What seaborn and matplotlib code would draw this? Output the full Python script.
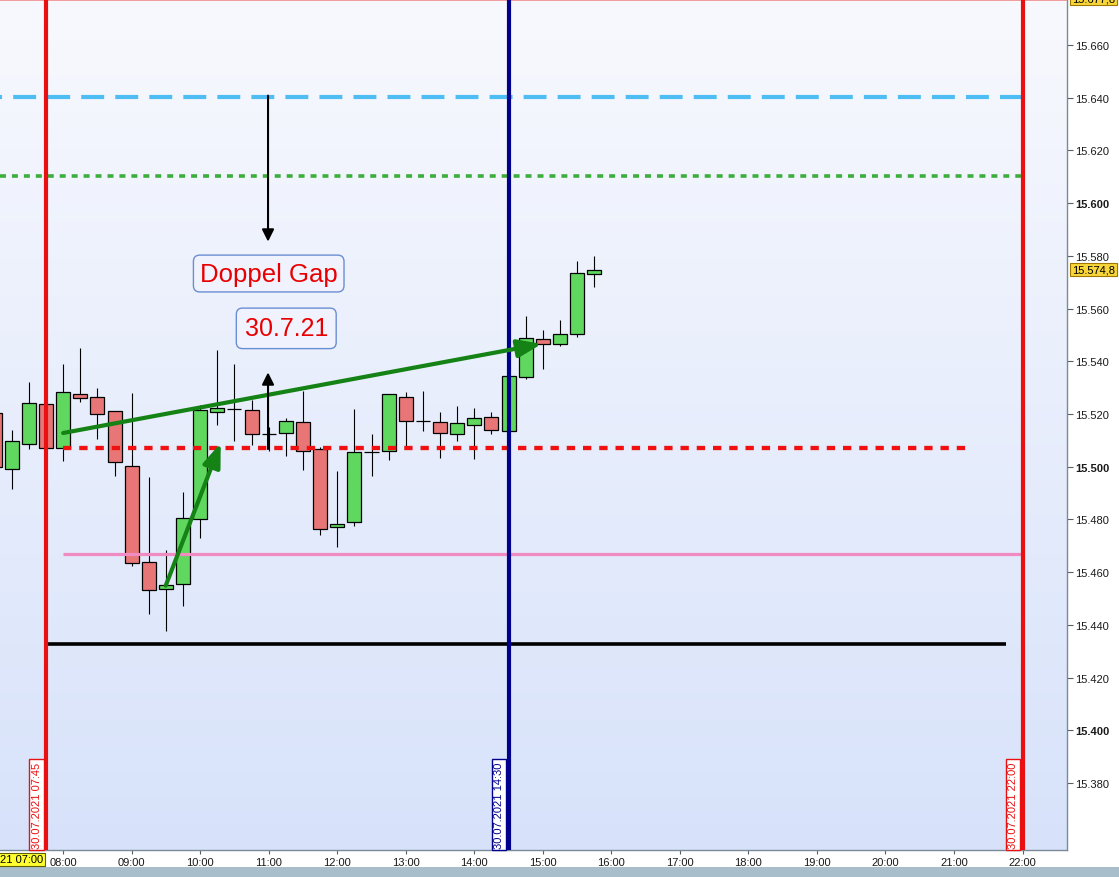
import matplotlib
matplotlib.use("Agg")
import matplotlib.pyplot as plt
from matplotlib.colors import LinearSegmentedColormap
from matplotlib.patches import Rectangle
import seaborn as sns
import numpy as np
import pandas as pd

# 15-Minuten-Kerzen 30.07.2021 (Punkte)
times = ["07:00", "07:15", "07:30", "07:45", "08:00", "08:15", "08:30", "08:45",
         "09:00", "09:15", "09:30", "09:45", "10:00", "10:15", "10:30", "10:45",
         "11:00", "11:15", "11:30", "11:45", "12:00", "12:15", "12:30", "12:45",
         "13:00", "13:15", "13:30", "13:45", "14:00", "14:15", "14:30", "14:45",
         "15:00", "15:15", "15:30", "15:45"]
opens = [15520.2, 15499.3, 15508.7, 15523.9, 15507.2, 15527.7, 15526.5, 15521.0,
         15500.4, 15464.0, 15453.8, 15455.7, 15480.3, 15520.9, 15522.0, 15521.7,
         15512.3, 15512.9, 15517.1, 15506.6, 15477.2, 15479.2, 15505.7, 15506.1,
         15526.5, 15517.5, 15517.1, 15512.5, 15515.9, 15519.0, 15513.7, 15534.1,
         15548.5, 15546.6, 15550.4, 15573.1]
highs = [15523.0, 15513.8, 15532.0, 15526.0, 15538.8, 15545.2, 15529.7, 15521.0,
         15527.8, 15496.0, 15468.3, 15490.3, 15523.4, 15544.1, 15538.8, 15525.3,
         15515.0, 15518.6, 15528.8, 15507.5, 15498.5, 15522.0, 15512.6, 15527.5,
         15528.4, 15528.8, 15520.6, 15523.1, 15522.4, 15520.9, 15534.5, 15557.0,
         15551.7, 15555.5, 15578.1, 15580.1]
lows = [15498.5, 15491.6, 15506.7, 15505.0, 15502.2, 15524.7, 15510.5, 15496.6,
        15462.5, 15444.2, 15437.5, 15447.0, 15472.9, 15515.8, 15509.7, 15508.2,
        15505.8, 15504.2, 15498.9, 15474.1, 15469.7, 15477.7, 15496.5, 15502.5,
        15508.0, 15513.5, 15503.4, 15509.9, 15502.9, 15512.4, 15513.7, 15533.2,
        15537.0, 15545.9, 15549.3, 15568.2]
closes = [15499.8, 15509.9, 15524.3, 15507.2, 15528.2, 15526.0, 15520.1, 15501.9,
          15463.3, 15453.4, 15455.3, 15480.7, 15521.7, 15522.4, 15522.0, 15512.4,
          15512.3, 15517.5, 15506.1, 15476.5, 15478.4, 15505.7, 15505.7, 15527.5,
          15517.5, 15517.5, 15512.9, 15516.7, 15518.6, 15514.0, 15534.5, 15548.9,
          15546.7, 15550.3, 15573.5, 15574.8]

# Linien / Marken
level_cyan = 15640.1
level_green = 15610.3
level_red = 15507.0
level_pink = 15467.0
level_black = 15432.7
marker_times = ["07:45", "14:30", "22:00"]
last_price = 15574.8
top_price = 15677.8
y_ticks = list(range(15380, 15661, 20))
x_ticks = list(range(8, 23))


def to_hour(t):
    hh, mm = t.split(":")
    return int(hh) + int(mm) / 60


def de_fmt(v, dec=0):
    s = f"{v:,.{dec}f}"
    return s.replace(",", "X").replace(".", ",").replace("X", ".")


df = pd.DataFrame({"time": times, "open": opens, "high": highs,
                   "low": lows, "close": closes})
df["hour"] = df["time"].map(to_hour)
df["bottom"] = df[["open", "close"]].min(axis=1)
df["height"] = (df["close"] - df["open"]).abs()
df["color"] = np.where(df["close"] > df["open"], "#60D860",
                       np.where(df["close"] < df["open"], "#E87676", "none"))

sns.set_theme(style="white")
plt.rcParams["font.family"] = ["Liberation Sans", "DejaVu Sans"]
plt.rcParams["lines.scale_dashes"] = False

W, H = 1119, 878
fig = plt.figure(figsize=(W / 100, H / 100), dpi=100)
fig.patch.set_facecolor("white")
ax = fig.add_axes([0, 27 / H, 1067 / W, 851 / H])

x0, x1 = 7.0788, 22.649
y0, y1 = 15354.6, 15677.45

# Hintergrundverlauf
bg = LinearSegmentedColormap.from_list("bg", ["#F8F9FE", "#D7E2FA"])
ax.imshow(np.linspace(0, 1, 256).reshape(-1, 1), extent=[x0, x1, y0, y1],
          origin="upper", aspect="auto", cmap=bg, zorder=0)

# Kerzen
ax.vlines(df["hour"], df["low"], df["high"], color="black", lw=0.8, zorder=3)
ax.bar(df["hour"], df["height"], bottom=df["bottom"], width=0.205,
       color=df["color"], edgecolor="black", linewidth=0.9, zorder=4)

# horizontale Linien
ax.axhline(y1 - 0.3, color="#F08A8A", lw=1.2, zorder=5)
ax.hlines(level_cyan, x0, 22.0, color="#4DBDF4", lw=3.0, linestyles=(15, (16.5, 8)), zorder=5)
ax.hlines(level_green, x0, 22.0, color="#3CAE3C", lw=2.6, linestyles=(0, (4.3, 4.3)), zorder=5)
ax.hlines(level_red, 8.0, 21.2, color="#F01010", lw=3.1, linestyles=(0, (6, 5.7)), zorder=6)
ax.hlines(level_pink, 8.0, 22.0, color="#F08CC2", lw=2.3, zorder=6)
ax.hlines(level_black, 7.75, 21.76, color="black", lw=2.6, zorder=6)

# vertikale Linien mit Datumsboxen
mcolors = ["#E81010", "#00008C", "#E81010"]
for t, c in zip(marker_times, mcolors):
    h = to_hour(t)
    ax.axvline(h, color=c, lw=3, zorder=7)
    ax.annotate(f"30.07.2021 {t}", xy=(h, y0), xytext=(-3.2, 1.6),
                textcoords="offset points", rotation=90, ha="right", va="bottom",
                fontsize=8, color=c, zorder=8,
                bbox=dict(boxstyle="square,pad=0.2", fc="white", ec=c, lw=1))

# Pfeile
ax.annotate("", xy=(14.983, 15546.6), xytext=(8.0, 15512.8),
            arrowprops=dict(arrowstyle="-|>,head_length=0.8,head_width=0.3",
                            mutation_scale=18, color="#148214", lw=3,
                            shrinkA=0, shrinkB=0), zorder=9)
ax.annotate("", xy=(10.30, 15509.0), xytext=(9.497, 15454.9),
            arrowprops=dict(arrowstyle="-|>,head_length=0.8,head_width=0.3",
                            mutation_scale=18, color="#148214", lw=3,
                            shrinkA=0, shrinkB=0), zorder=9)
ax.annotate("", xy=(10.99, 15585.4), xytext=(10.99, 15640.8),
            arrowprops=dict(arrowstyle="-|>,head_length=0.6,head_width=0.3",
                            mutation_scale=12, color="black", lw=1.5,
                            shrinkA=0, shrinkB=0), zorder=9)
ax.annotate("", xy=(10.99, 15535.8), xytext=(10.99, 15506.7),
            arrowprops=dict(arrowstyle="-|>,head_length=0.6,head_width=0.3",
                            mutation_scale=12, color="black", lw=1.5,
                            shrinkA=0, shrinkB=0), zorder=9)

# Textboxen
box = dict(boxstyle="round,pad=0.25,rounding_size=0.25", fc="#F0F3FD", ec="#6A8ED2", lw=1)
ax.text(11.0, 15573.3, "Doppel Gap", fontsize=18.5, color="#E80000",
        ha="center", va="center", bbox=box, zorder=10)
ax.text(11.256, 15552.5, "30.7.21", fontsize=18, color="#E80000",
        ha="center", va="center", bbox=dict(box, boxstyle="round,pad=0.33,rounding_size=0.25"),
        zorder=10)

# Achsen
ax.set_xlim(x0, x1)
ax.set_ylim(y0, y1)
ax.set_xticks(x_ticks)
ax.set_xticklabels([f"{h:02d}:00" for h in x_ticks])
ax.set_yticks(y_ticks)
ax.set_yticklabels([de_fmt(v) for v in y_ticks])
ax.yaxis.tick_right()
ax.tick_params(axis="y", right=True, left=False, length=4, width=0.8, pad=2,
               labelsize=8, color="#555F68", labelcolor="#1A1A1A")
ax.tick_params(axis="x", bottom=True, length=3, width=0.8, pad=2,
               labelsize=8, color="#555F68", labelcolor="#1A1A1A")
for lab, v in zip(ax.get_yticklabels(), y_ticks):
    if v % 100 == 0:
        lab.set_fontweight("bold")
for s in ["left", "top"]:
    ax.spines[s].set_visible(False)
for s in ["right", "bottom"]:
    ax.spines[s].set_color("#7A8A98")
    ax.spines[s].set_linewidth(1)

# Kursmarken rechts
ybox = dict(boxstyle="square,pad=0.15", fc="#F8D63A", ec="#A07800", lw=0.8)
ax.annotate(de_fmt(last_price, 1), xy=(1, last_price), xycoords=("axes fraction", "data"),
            xytext=(3.5, 0), textcoords="offset points", ha="left", va="center",
            fontsize=8, color="black", bbox=ybox, annotation_clip=False)
ax.annotate(de_fmt(top_price, 1), xy=(1, top_price), xycoords=("axes fraction", "data"),
            xytext=(3.5, 0), textcoords="offset points", ha="left", va="center",
            fontsize=8, color="black", bbox=ybox, annotation_clip=False)

# Startzeit links unten (wie im Original am Rand abgeschnitten)
fig.text(43 / W, (H - 860.5) / H, "30.07.2021 07:00", ha="right", va="center",
         fontsize=8, color="black",
         bbox=dict(boxstyle="square,pad=0.15", fc="#FFFF30", ec="#606000", lw=0.8))

# Leiste unten
fig.patches.append(Rectangle((0, 0), 1, 10 / H, transform=fig.transFigure,
                             fc="#A8BECA", ec="none"))

fig.savefig("out.png", dpi=100)
